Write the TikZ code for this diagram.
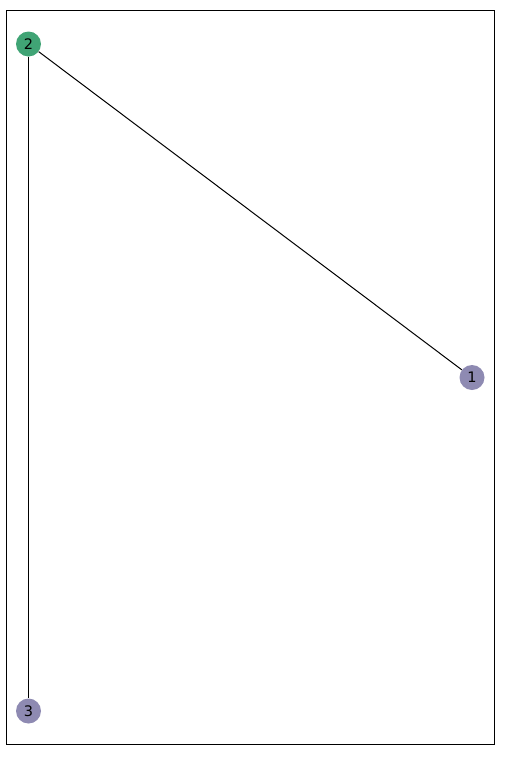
\documentclass[tikz,border=0pt]{standalone}
\usepackage{fontspec}
\setmainfont{DejaVu Sans}
\definecolor{nodegreen}{RGB}{64,164,117}
\definecolor{nodepurple}{RGB}{142,138,178}
\begin{document}
\begin{tikzpicture}[x=1pt,y=-1pt,
  vtx/.style={circle,inner sep=0pt,minimum size=25pt,font=\fontsize{14.5}{16}\selectfont},
  edge/.style={draw=black,line width=1pt}]
\useasboundingbox (0,0) rectangle (511,758);
\draw[line width=0.9pt] (6.5,10.5) rectangle (494.5,744.5);
\node[vtx,fill=nodegreen] (n2) at (28.5,44) {2};
\node[vtx,fill=nodepurple] (n1) at (472,377.5) {1};
\node[vtx,fill=nodepurple] (n3) at (28.5,711) {3};
\draw[edge] (n2) -- (n1);
\draw[edge] (n2) -- (n3);
\end{tikzpicture}
\end{document}
